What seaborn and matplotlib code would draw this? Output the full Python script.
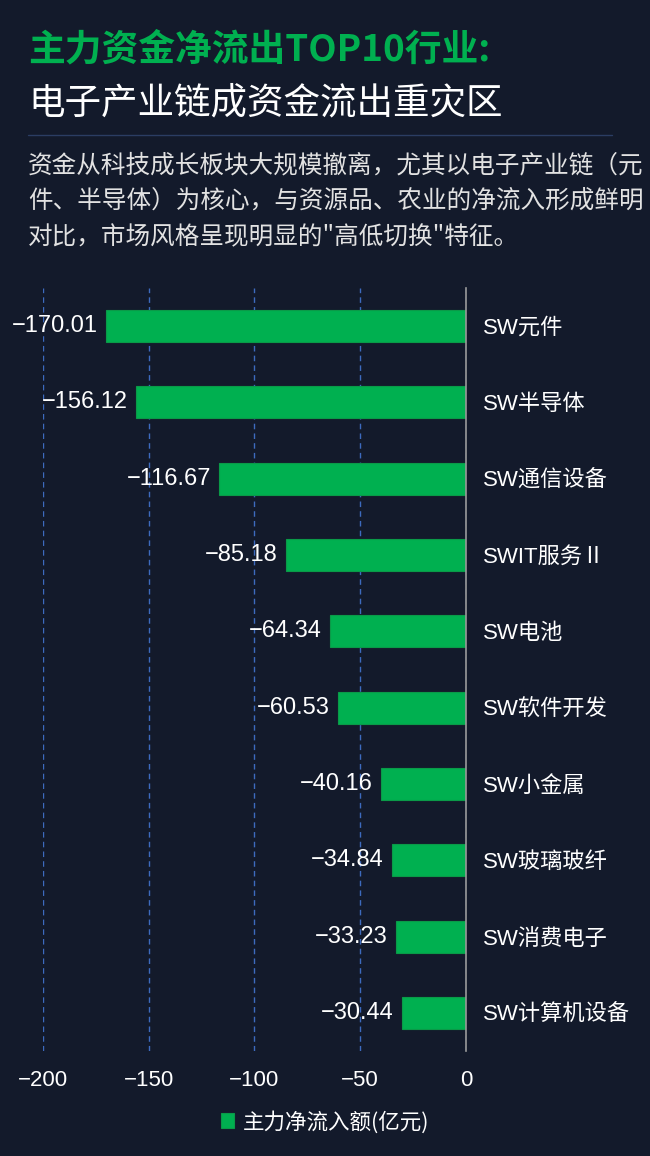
import matplotlib
matplotlib.use("Agg")
import matplotlib.pyplot as plt
import seaborn as sns
import pandas as pd
from matplotlib.lines import Line2D

# ---- data ----
categories = ["SW元件", "SW半导体", "SW通信设备", "SWIT服务Ⅱ", "SW电池",
              "SW软件开发", "SW小金属", "SW玻璃玻纤", "SW消费电子", "SW计算机设备"]
values = [-170.01, -156.12, -116.67, -85.18, -64.34,
          -60.53, -40.16, -34.84, -33.23, -30.44]
x_ticks = [-200, -150, -100, -50, 0]
series_name = "主力净流入额(亿元)"
title_line1 = "主力资金净流出TOP10行业:"
title_line2 = "电子产业链成资金流出重灾区"
desc_lines = ["资金从科技成长板块大规模撤离，尤其以电子产业链（元",
              "件、半导体）为核心，与资源品、农业的净流入形成鲜明",
              "对比，市场风格呈现明显的\"高低切换\"特征。"]

BG = "#131a2b"
GREEN = "#00b050"
FAM = ["Liberation Sans", "Noto Sans CJK SC", "DejaVu Sans"]
CJK = ["Noto Sans CJK SC", "DejaVu Sans"]

sns.set_theme(style="dark")
plt.rcParams["font.family"] = FAM
plt.rcParams["axes.unicode_minus"] = True

W, H = 650, 1156
fig = plt.figure(figsize=(W / 100, H / 100), dpi=100, facecolor=BG)

def fy(py):
    return 1 - py / H

ax_l, ax_r, ax_t, ax_b = 43, 466, 288, 1051
ax = fig.add_axes([ax_l / W, fy(ax_b), (ax_r - ax_l) / W, (ax_b - ax_t) / H])
ax.set_facecolor(BG)

df = pd.DataFrame({"cat": categories, "val": values})
sns.barplot(data=df, x="val", y="cat", orient="h", color=GREEN, width=0.42,
            saturation=1, ax=ax, label=series_name, edgecolor="#0a9a48", linewidth=0.8,
            zorder=3)

ax.set_xlim(-200, 0)
ax.set_xticks(x_ticks)
ax.set_xticklabels([str(t).replace("-", "\u2212") for t in x_ticks])
ax.set_xlabel("")
ax.set_ylabel("")

# value labels
cont = ax.containers[0]
ax.bar_label(cont, labels=[f"{v:.2f}".replace("-", "\u2212") for v in values],
             padding=6, color="white", fontsize=17, family=FAM)

# y labels on right side of zero line
ax.yaxis.tick_right()
ax.tick_params(axis="y", length=0, pad=12, labelsize=16, labelcolor="white")
ax.tick_params(axis="x", length=0, pad=14, labelsize=16, labelcolor="white")
for lab in ax.get_yticklabels():
    lab.set_family(FAM)

# grid & spines
ax.grid(axis="x", linestyle=(0, (4, 3)), color="#3d6bbf", linewidth=1.0, zorder=0)
ax.grid(axis="y", visible=False)
for s in ["top", "left", "bottom"]:
    ax.spines[s].set_visible(False)
ax.spines["right"].set_visible(True)
ax.spines["right"].set_color("#9a9a9a")
ax.spines["right"].set_linewidth(1.2)
ax.spines["right"].set_zorder(4)

# legend
leg = ax.legend(loc="center", bbox_to_anchor=(0.5, fy(1122)), bbox_transform=fig.transFigure,
                frameon=False, handlelength=0.6, handleheight=0.7,
                handletextpad=0.4, prop={"family": CJK, "size": 15.5})
for t in leg.get_texts():
    t.set_color("white")

# titles
fig.text(28 / W, fy(50), title_line1, color=GREEN, fontsize=26.5, fontweight=900,
         family=CJK, va="center", ha="left")
fig.text(28 / W, fy(103), title_line2, color="white", fontsize=26.3,
         family=CJK, va="center", ha="left")
fig.add_artist(Line2D([28 / W, 612 / W], [fy(135), fy(135)], color="#2b3d63", linewidth=1,
                      transform=fig.transFigure))
for i, line in enumerate(desc_lines):
    fig.text(28 / W, fy(165 + 36 * i), line, color="#e2e2e2", fontsize=17.7,
             family=CJK, va="center", ha="left")

fig.savefig("out.png", dpi=100, facecolor=BG)
